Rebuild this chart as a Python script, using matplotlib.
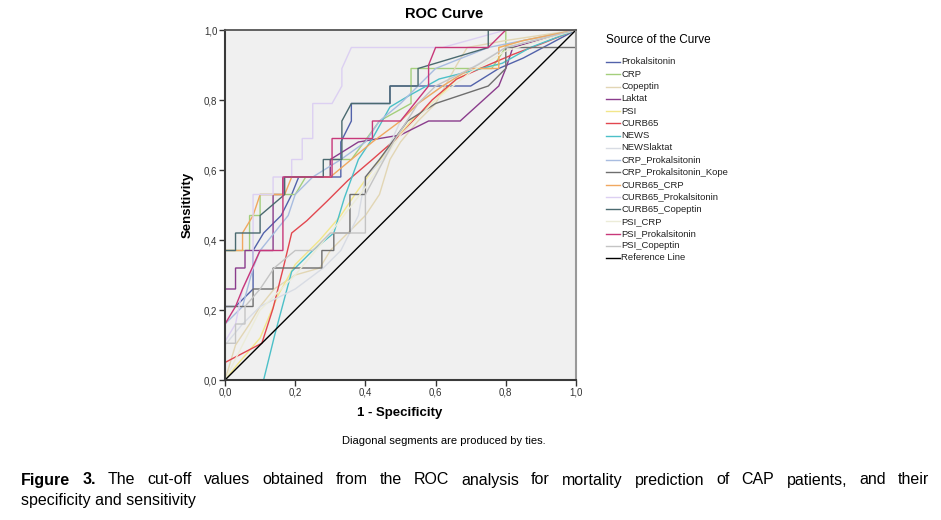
import matplotlib
matplotlib.use('Agg')
import matplotlib.pyplot as plt
from matplotlib.lines import Line2D
from matplotlib.ticker import FuncFormatter, FixedLocator

plt.rcParams['font.family'] = ['Liberation Sans', 'DejaVu Sans']

W, H = 941, 520

# ROC curves: (1 - specificity, sensitivity)
curve_names = [
    'Prokalsitonin', 'CRP', 'Copeptin', 'Laktat', 'PSI', 'CURB65', 'NEWS',
    'NEWSlaktat', 'CRP_Prokalsitonin', 'CRP_Prokalsitonin_Kope', 'CURB65_CRP',
    'CURB65_Prokalsitonin', 'CURB65_Copeptin', 'PSI_CRP', 'PSI_Prokalsitonin',
    'PSI_Copeptin',
]
curve_colors = [
    '#5262aa', '#a4cf7c', '#e2d6b4', '#8a3c8c', '#f2e68a', '#e2474f', '#4cc0c8',
    '#d8dce4', '#a8bce0', '#6e6e6e', '#f0a860', '#dcd0f2', '#4a6a70', '#ececd8',
    '#c8387a', '#c4c4c4',
]

prokalsitonin_x = [0, 0, 0.03, 0.08, 0.08, 0.11, 0.16, 0.19, 0.21, 0.33, 0.33, 0.36, 0.36, 0.47, 0.47, 0.70, 0.78, 0.85, 1]
prokalsitonin_y = [0, 0.21, 0.21, 0.26, 0.37, 0.42, 0.47, 0.53, 0.58, 0.58, 0.68, 0.74, 0.79, 0.79, 0.84, 0.84, 0.89, 0.92, 1]

crp_x = [0, 0, 0.07, 0.07, 0.10, 0.10, 0.20, 0.23, 0.30, 0.30, 0.36, 0.44, 0.53, 0.53, 0.76, 0.80, 0.80, 1]
crp_y = [0, 0.37, 0.37, 0.47, 0.47, 0.53, 0.53, 0.58, 0.58, 0.63, 0.63, 0.74, 0.79, 0.89, 0.89, 0.95, 1, 1]

copeptin_x = [0, 0.03, 0.07, 0.10, 0.14, 0.20, 0.27, 0.30, 0.35, 0.40, 0.44, 0.47, 0.50, 0.55, 0.60, 0.66, 0.69, 0.80, 1]
copeptin_y = [0, 0.10, 0.16, 0.21, 0.26, 0.30, 0.32, 0.37, 0.42, 0.47, 0.53, 0.63, 0.68, 0.74, 0.79, 0.90, 0.95, 0.97, 1]

laktat_x = [0, 0, 0.03, 0.03, 0.057, 0.057, 0.137, 0.137, 0.165, 0.165, 0.30, 0.30, 0.38, 0.50, 0.58, 0.67, 0.78, 0.80, 0.82, 1]
laktat_y = [0, 0.26, 0.26, 0.32, 0.32, 0.37, 0.37, 0.53, 0.53, 0.58, 0.58, 0.63, 0.68, 0.70, 0.74, 0.74, 0.84, 0.89, 0.95, 1]

psi_x = [0, 0.04, 0.10, 0.15, 0.20, 0.27, 0.33, 0.37, 0.42, 0.48, 0.53, 0.60, 0.66, 0.72, 0.78, 0.78, 0.85, 1]
psi_y = [0, 0.05, 0.12, 0.24, 0.33, 0.40, 0.47, 0.53, 0.60, 0.68, 0.74, 0.80, 0.86, 0.89, 0.90, 0.95, 0.97, 1]

curb65_x = [0, 0, 0.105, 0.137, 0.166, 0.19, 0.233, 0.29, 0.35, 0.42, 0.50, 0.59, 0.66, 0.75, 0.82, 0.90, 1]
curb65_y = [0, 0.05, 0.105, 0.205, 0.32, 0.42, 0.455, 0.51, 0.57, 0.63, 0.70, 0.80, 0.86, 0.90, 0.93, 0.96, 1]

news_x = [0, 0.11, 0.142, 0.19, 0.25, 0.31, 0.34, 0.38, 0.42, 0.47, 0.52, 0.61, 0.79, 0.87, 1]
news_y = [0, 0, 0.13, 0.31, 0.37, 0.42, 0.52, 0.63, 0.69, 0.78, 0.81, 0.86, 0.905, 0.95, 1]

newslaktat_x = [0, 0, 0.05, 0.10, 0.20, 0.28, 0.33, 0.38, 0.40, 0.45, 0.50, 0.55, 0.62, 0.70, 0.80, 1]
newslaktat_y = [0, 0.10, 0.16, 0.21, 0.26, 0.32, 0.37, 0.47, 0.58, 0.63, 0.74, 0.79, 0.84, 0.89, 0.95, 1]

crp_prok_x = [0, 0, 0.05, 0.08, 0.10, 0.14, 0.18, 0.20, 0.25, 0.33, 0.40, 0.44, 0.50, 0.55, 0.60, 0.75, 1]
crp_prok_y = [0, 0.16, 0.21, 0.32, 0.37, 0.42, 0.47, 0.53, 0.58, 0.63, 0.68, 0.74, 0.79, 0.84, 0.89, 0.95, 1]

crp_prok_kope_x = [0, 0, 0.08, 0.08, 0.137, 0.137, 0.276, 0.276, 0.31, 0.31, 0.356, 0.356, 0.40, 0.40, 0.44, 0.52, 0.60, 0.75, 0.80, 0.80, 1, 1]
crp_prok_kope_y = [0, 0.21, 0.21, 0.26, 0.26, 0.32, 0.32, 0.37, 0.37, 0.42, 0.42, 0.53, 0.53, 0.58, 0.63, 0.74, 0.79, 0.84, 0.89, 0.95, 0.95, 1]

curb65_crp_x = [0, 0, 0.05, 0.05, 0.08, 0.10, 0.17, 0.19, 0.30, 0.36, 0.42, 0.50, 0.55, 0.62, 0.70, 0.78, 0.78, 0.85, 1]
curb65_crp_y = [0, 0.37, 0.37, 0.42, 0.47, 0.53, 0.53, 0.58, 0.58, 0.63, 0.68, 0.74, 0.79, 0.84, 0.89, 0.89, 0.95, 0.97, 1]

curb65_prok_x = [0, 0, 0.03, 0.05, 0.08, 0.08, 0.137, 0.137, 0.19, 0.19, 0.22, 0.22, 0.25, 0.25, 0.305, 0.333, 0.333, 0.36, 0.62, 0.80, 1]
curb65_prok_y = [0, 0.11, 0.16, 0.26, 0.32, 0.53, 0.53, 0.58, 0.58, 0.63, 0.63, 0.69, 0.69, 0.79, 0.79, 0.84, 0.89, 0.95, 0.95, 1, 1]

curb65_cop_x = [0, 0, 0.03, 0.03, 0.10, 0.10, 0.17, 0.17, 0.28, 0.28, 0.333, 0.333, 0.36, 0.47, 0.47, 0.55, 0.55, 0.75, 0.75, 1]
curb65_cop_y = [0, 0.37, 0.37, 0.42, 0.42, 0.47, 0.53, 0.58, 0.58, 0.63, 0.63, 0.74, 0.79, 0.79, 0.84, 0.84, 0.89, 0.95, 1, 1]

psi_crp_x = [0, 0.05, 0.10, 0.20, 0.30, 0.40, 0.50, 0.60, 0.70, 0.80, 1]
psi_crp_y = [0, 0.10, 0.20, 0.30, 0.42, 0.55, 0.70, 0.80, 0.88, 0.94, 1]

psi_prok_x = [0, 0, 0.03, 0.05, 0.10, 0.165, 0.165, 0.305, 0.305, 0.42, 0.42, 0.50, 0.58, 0.58, 0.60, 0.75, 0.80, 1]
psi_prok_y = [0, 0.16, 0.21, 0.26, 0.37, 0.37, 0.58, 0.58, 0.69, 0.69, 0.74, 0.74, 0.84, 0.90, 0.95, 0.95, 1, 1]

psi_cop_x = [0, 0, 0.03, 0.03, 0.057, 0.057, 0.10, 0.14, 0.20, 0.25, 0.30, 0.40, 0.40, 0.48, 0.55, 0.60, 0.72, 0.80, 1]
psi_cop_y = [0, 0.105, 0.105, 0.16, 0.16, 0.21, 0.26, 0.32, 0.37, 0.37, 0.42, 0.42, 0.53, 0.68, 0.79, 0.84, 0.90, 0.95, 1]

curves_x = [prokalsitonin_x, crp_x, copeptin_x, laktat_x, psi_x, curb65_x, news_x,
            newslaktat_x, crp_prok_x, crp_prok_kope_x, curb65_crp_x, curb65_prok_x,
            curb65_cop_x, psi_crp_x, psi_prok_x, psi_cop_x]
curves_y = [prokalsitonin_y, crp_y, copeptin_y, laktat_y, psi_y, curb65_y, news_y,
            newslaktat_y, crp_prok_y, crp_prok_kope_y, curb65_crp_y, curb65_prok_y,
            curb65_cop_y, psi_crp_y, psi_prok_y, psi_cop_y]

ref_x = [0, 1]
ref_y = [0, 1]
tick_values = [0.0, 0.2, 0.4, 0.6, 0.8, 1.0]


def fx(px):
    return px / W


def fy(py):
    return 1 - py / H


fig = plt.figure(figsize=(W / 100, H / 100), dpi=100)
ax = fig.add_axes([fx(225), fy(380), 351 / W, 350 / H])
ax.set_facecolor('#f0f0f0')

for xs, ys, c in zip(curves_x, curves_y, curve_colors):
    ax.plot(xs, ys, color=c, lw=1.0, solid_joinstyle='miter')
ax.plot(ref_x, ref_y, color='black', lw=1.0)

ax.set_xlim(0, 1)
ax.set_ylim(0, 1)
ax.xaxis.set_major_locator(FixedLocator(tick_values))
ax.yaxis.set_major_locator(FixedLocator(tick_values))
comma = FuncFormatter(lambda v, p: f'{v:.1f}'.replace('.', ','))
ax.xaxis.set_major_formatter(comma)
ax.yaxis.set_major_formatter(comma)
ax.tick_params(direction='out', length=4, width=1, colors='#333333', labelsize=7, pad=1.5)

for side in ['left', 'bottom']:
    ax.spines[side].set_color('#3a3a3a')
    ax.spines[side].set_linewidth(1.5)
ax.spines['top'].set_color('#555555')
ax.spines['top'].set_linewidth(1.3)
ax.spines['right'].set_color('#999999')
ax.spines['right'].set_linewidth(1.5)

fig.text(fx(444), fy(14), 'ROC Curve', ha='center', va='center', fontsize=10.5, fontweight='bold')
fig.text(fx(400), fy(413), '1 - Specificity', ha='center', va='center', fontsize=9.5, fontweight='bold')
fig.text(fx(188), fy(205), 'Sensitivity', ha='center', va='center', rotation=90, fontsize=9.5, fontweight='bold')
fig.text(fx(444), fy(441), 'Diagonal segments are produced by ties.', ha='center', va='center', fontsize=8)

# legend, drawn by hand like the SPSS output
fig.text(fx(606), fy(40), 'Source of the Curve', ha='left', va='center', fontsize=8.5)
legend_names = curve_names + ['Reference Line']
legend_colors = curve_colors + ['black']
for i, (name, c) in enumerate(zip(legend_names, legend_colors)):
    y = 62 + i * 12.25
    fig.add_artist(Line2D([fx(606), fx(620)], [fy(y), fy(y)], color=c, lw=1.0,
                          transform=fig.transFigure))
    fig.text(fx(621), fy(y), name, ha='left', va='center', fontsize=6.8, color='#222222')

# caption, first line justified
cap_words = ['Figure', '3.', 'The', 'cut-off', 'values', 'obtained', 'from', 'the', 'ROC',
             'analysis', 'for', 'mortality', 'prediction', 'of', 'CAP', 'patients,', 'and', 'their']
renderer = fig.canvas.get_renderer()
texts = []
for j, w in enumerate(cap_words):
    t = fig.text(0, fy(480), w, ha='left', va='center', fontsize=11.5,
                 fontweight='bold' if j < 2 else 'normal')
    texts.append(t)
widths = [t.get_window_extent(renderer).width for t in texts]
left, right = 21, 929
gap = (right - left - sum(widths)) / (len(texts) - 1)
xpos = left
for t, wd in zip(texts, widths):
    t.set_x(fx(xpos))
    xpos += wd + gap
fig.text(fx(21), fy(500), 'specificity and sensitivity', ha='left', va='center', fontsize=11.5)

fig.savefig('out.png', dpi=100)
